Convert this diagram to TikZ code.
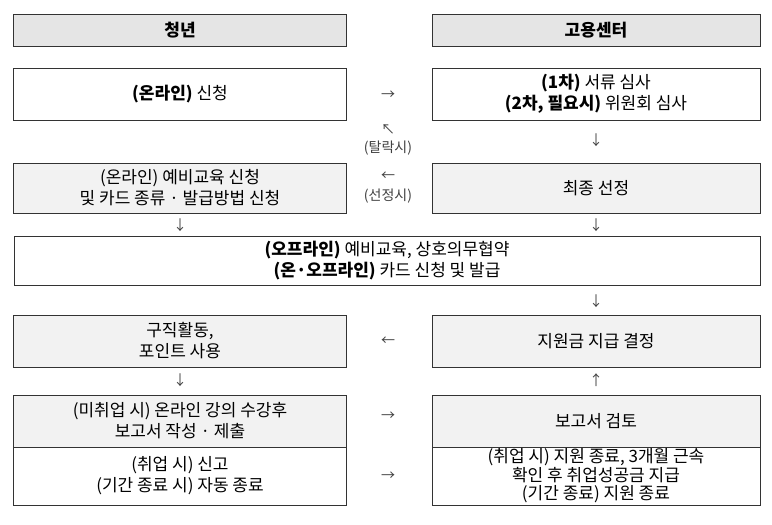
\documentclass[tikz,border=0pt]{standalone}
\usepackage{fontspec}
\setmainfont{Noto Sans CJK KR}
\begin{document}
\begin{tikzpicture}[x=1pt,y=-1pt,
  every node/.style={font=\fontsize{17}{21}\selectfont,align=center},
  stepbox/.style={draw=black!80,thick,inner sep=0pt},
  headbox/.style={stepbox,fill=black!10},
  greybox/.style={stepbox,fill=black!5},
  sign/.style={font=\fontsize{14}{17}\selectfont,text=black!75}]

\useasboundingbox (0,0) rectangle (772,525);

% headers
\node [headbox,minimum width=333,minimum height=32] (youth) at (180,30) {\textbf{청년}};
\node [headbox,minimum width=328,minimum height=32] (center) at (596,30) {\textbf{고용센터}};

% first row
\node [stepbox,minimum width=333,minimum height=52] (apply) at (180,94) {\textbf{(온라인)} 신청};
\node [stepbox,minimum width=328,minimum height=52] (review) at (596,94) {\textbf{(1차)} 서류 심사\\\textbf{(2차, 필요시)} 위원회 심사};

% second row
\node [greybox,minimum width=333,minimum height=50] (pre) at (180,188) {(온라인) 예비교육 신청\\및 카드 종류 · 발급방법 신청};
\node [greybox,minimum width=328,minimum height=50] (select) at (596,188) {최종 선정};

% wide box
\node [stepbox,minimum width=746,minimum height=49] (offline) at (387,261) {\textbf{(오프라인)} 예비교육, 상호의무협약\\\textbf{(온·오프라인)} 카드 신청 및 발급};

% fourth row
\node [greybox,minimum width=333,minimum height=52] (job) at (180,341) {구직활동,\\포인트 사용};
\node [greybox,minimum width=328,minimum height=52] (grant) at (596,341) {지원금 지급 결정};

% fifth row
\node [greybox,minimum width=333,minimum height=52] (report) at (180,421) {(미취업 시) 온라인 강의 수강후\\보고서 작성 · 제출};
\node [greybox,minimum width=328,minimum height=52] (check) at (596,421) {보고서 검토};
\node [stepbox,minimum width=333,minimum height=58] (quit) at (180,476) {(취업 시) 신고\\(기간 종료 시) 자동 종료};
\node [stepbox,minimum width=328,minimum height=58,font=\fontsize{17}{18.5}\selectfont] (finish) at (596,476) {(취업 시) 지원 종료, 3개월 근속\\확인 후 취업성공금 지급\\(기간 종료) 지원 종료};

% arrows between boxes
\node [sign] (a1) at (388,95) {→};
\node [sign] (a2) at (388,130) {↖};
\node [sign] (a3) at (388,148) {(탈락시)};
\node [sign] (a4) at (388,176) {←};
\node [sign] (a5) at (388,196) {(선정시)};
\node [sign] (a6) at (596,140) {↓};
\node [sign] (a7) at (596,225) {↓};
\node [sign] (a8) at (180,225) {↓};
\node [sign] (a9) at (596,301) {↓};
\node [sign] (a10) at (388,341) {←};
\node [sign] (a11) at (180,380) {↓};
\node [sign] (a12) at (596,380) {↑};
\node [sign] (a13) at (388,416) {→};
\node [sign] (a14) at (388,476) {→};

\end{tikzpicture}
\end{document}
